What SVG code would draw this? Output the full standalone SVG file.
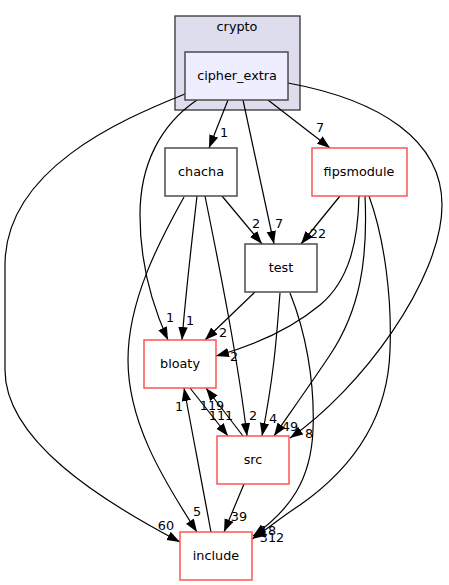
<svg xmlns="http://www.w3.org/2000/svg" width="449" height="585" viewBox="0 0 449 585">
<style>
text{font-family:"DejaVu Sans",sans-serif;font-size:12.8px;fill:#000;text-anchor:middle}
.n{fill:#fff;stroke:#404040;stroke-width:1.4}
.r{fill:#fff;stroke:#ff4848;stroke-width:1.4}
.e{fill:none;stroke:#000;stroke-width:1.2;marker-end:url(#a)}
</style>
<defs>
<marker id="a" markerUnits="userSpaceOnUse" markerWidth="14" markerHeight="10" refX="13" refY="4.7" orient="auto" viewBox="0 0 14 10">
<path d="M0,0 L13,4.7 L0,9.4 z" fill="#000"/>
</marker>
</defs>
<rect width="449" height="585" fill="#fff"/>
<g id="cluster_crypto">
<rect x="175" y="16" width="125" height="94" fill="#ddddee" stroke="#404040" stroke-width="1.4"/>
<text x="237" y="31">crypto</text>
</g>
<g id="edges">
<path class="e" d="M228,100 L209,148"/>
<path class="e" d="M268,100 L330,148"/>
<path class="e" d="M243,100 L274,244"/>
<path class="e" d="M197,100 C160,125 140,165 140,215 C140,265 152,305 168,340"/>
<path class="e" d="M185,94 C120,120 5,170 5,265 L5,370 C5,440 100,500 180,542"/>
<path class="e" d="M288,83 C380,100 442,140 442,205 C442,280 360,390 290,438"/>
<path class="e" d="M222,196 L262,244"/>
<path class="e" d="M197,196 C192,240 186,290 182,340"/>
<path class="e" d="M205,196 C220,270 238,360 247,436"/>
<path class="e" d="M184,197 C160,240 128,300 128,360 C128,420 160,475 197,532"/>
<path class="e" d="M340,196 L301,244"/>
<path class="e" d="M359,196 C358,240 350,280 320,305 C290,330 255,345 216,356"/>
<path class="e" d="M365,196 C368,260 360,310 330,355 C310,385 292,410 274,436"/>
<path class="e" d="M369,196 C385,240 392,300 390,350 C388,420 350,470 300,505 C280,518 266,530 252,539"/>
<path class="e" d="M255,292 L205,340"/>
<path class="e" d="M280,293 C277,330 275,370 262,436"/>
<path class="e" d="M290,293 C305,330 315,380 313,430 C311,480 290,510 253,536"/>
<path class="e" d="M190,388 L228,436"/>
<path class="e" d="M243,436 L206,388"/>
<path class="e" d="M211,532 L184,388"/>
<path class="e" d="M244,484 L224,532"/>
<text x="224" y="137">1</text>
<text x="320" y="132">7</text>
<text x="279" y="228">7</text>
<text x="170" y="322">1</text>
<text x="166" y="530">60</text>
<text x="309" y="438">8</text>
<text x="256" y="228">2</text>
<text x="190" y="325">1</text>
<text x="253" y="420">2</text>
<text x="197" y="516">5</text>
<text x="318" y="238">22</text>
<text x="234" y="361">2</text>
<text x="290" y="431">49</text>
<text x="272" y="542">312</text>
<text x="223" y="337">2</text>
<text x="273" y="423">4</text>
<text x="268" y="535">18</text>
<text x="221" y="420">111</text>
<text x="212" y="410">119</text>
<text x="179" y="411">1</text>
<text x="239" y="521">39</text>
</g>
<g id="cipher_extra">
<rect x="185" y="52" width="103" height="48" fill="#eeeeff" stroke="#404040" stroke-width="1.4"/>
<text x="237" y="80">cipher_extra</text>
</g>
<g id="chacha">
<rect class="n" x="165" y="148" width="72" height="48"/>
<text x="201" y="176">chacha</text>
</g>
<g id="fipsmodule">
<rect class="r" x="312" y="148" width="95" height="48"/>
<text x="359" y="176">fipsmodule</text>
</g>
<g id="test">
<rect class="n" x="245" y="244" width="72" height="48"/>
<text x="281" y="272">test</text>
</g>
<g id="bloaty">
<rect class="r" x="144" y="340" width="72" height="48"/>
<text x="180" y="368">bloaty</text>
</g>
<g id="src">
<rect class="r" x="217" y="436" width="72" height="48"/>
<text x="253" y="464">src</text>
</g>
<g id="include">
<rect class="r" x="180" y="532" width="72" height="48"/>
<text x="216" y="560">include</text>
</g>
</svg>
